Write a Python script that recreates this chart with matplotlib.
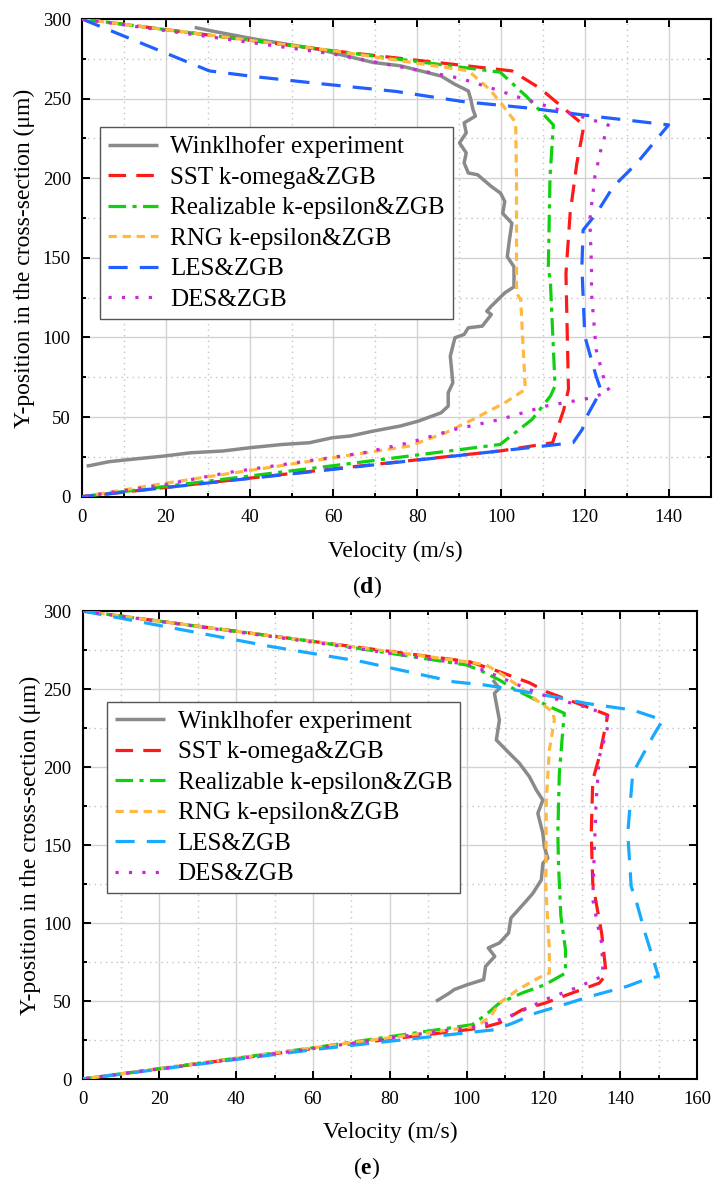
import matplotlib
matplotlib.use("Agg")
import matplotlib.pyplot as plt
from matplotlib.ticker import MultipleLocator

plt.rcParams['font.family'] = ['Liberation Serif', 'DejaVu Serif']
plt.rcParams['mathtext.fontset'] = 'custom'
plt.rcParams['mathtext.rm'] = 'Liberation Serif'
plt.rcParams['mathtext.bf'] = 'Liberation Serif:bold'

labels = ["Winklhofer experiment", "SST k-omega&ZGB", "Realizable k-epsilon&ZGB",
          "RNG k-epsilon&ZGB", "LES&ZGB", "DES&ZGB"]

# ---------------- panel (d) ----------------
exp_d_v = [26.9, 31.5, 41.2, 56.4, 69.5, 76.0, 85.7, 89.0, 92.2, 92.8, 93.3, 93.9, 91.2, 91.7, 90.1, 91.7,
           91.2, 92.2, 94.4, 97.7, 99.9, 100.9, 100.4, 102.6, 102.0, 101.5, 103.1, 103.1, 100.9, 97.7, 96.6,
           97.7, 95.5, 92.2, 91.2, 89.0, 87.9, 88.5, 87.4, 87.4, 85.7, 80.3, 76.0, 69.5, 64.0, 59.7, 54.3,
           47.8, 40.2, 33.6, 26.0, 19.5, 13.0, 6.5, 2.2, 1.1]
exp_d_y = [294.7, 292.2, 287.4, 281.0, 272.7, 270.6, 264.2, 259.0, 254.8, 249.5, 243.2, 239.0, 234.8, 228.5,
           222.2, 215.9, 209.6, 203.3, 202.2, 194.8, 190.6, 185.4, 178.0, 171.7, 161.2, 150.7, 144.4, 131.8,
           128.0, 119.7, 116.5, 114.4, 107.1, 106.1, 101.9, 99.8, 88.3, 71.5, 65.3, 56.9, 52.7, 47.5, 44.4,
           41.2, 38.1, 37.0, 33.9, 32.8, 30.8, 28.7, 27.6, 25.5, 23.8, 22.0, 19.7, 19.2]

sst_d_v = [0, 60, 102.6, 109.3, 119.8, 118.1, 116.5, 115.5, 116.1, 115.0, 112.3, 100.0, 60, 0]
sst_d_y = [300, 280, 267.4, 256.5, 233.2, 209.4, 178.0, 140.0, 67.4, 54.8, 33.9, 28.8, 17.5, 0]

rke_d_v = [0, 60, 99.8, 106.1, 112.5, 111.7, 111.3, 111.8, 112.9, 111.8, 107.4, 99.8, 60, 0]
rke_d_y = [300, 280, 266.6, 251.3, 233.5, 201.0, 144.5, 134.3, 69.5, 63.2, 48.5, 32.8, 19.5, 0]

rng_d_v = [0, 60, 92.2, 97.4, 100.5, 103.5, 103.7, 103.7, 104.7, 105.8, 100.9, 93.3, 86.8, 78.1, 60, 40, 20, 0]
rng_d_y = [300, 280, 267.5, 255.5, 245.5, 235.0, 200.0, 127.8, 123.8, 67.4, 59.0, 48.5, 40.2, 31.8, 24.5,
           16.5, 8.5, 0]

les_d_v = [0, 30.4, 41.2, 56.4, 75.0, 91.0, 106.9, 122.8, 140.0, 132.4, 126.8, 122.8, 119.6, 119.3, 120.0,
           122.7, 123.8, 122.7, 120.5, 119.4, 117.2, 100.0, 60, 0]
les_d_y = [300, 267.4, 263.8, 259.5, 254.5, 248.1, 244.0, 238.7, 233.5, 209.4, 194.7, 178.0, 167.5, 144.5,
           100.8, 75.7, 67.4, 61.1, 50.6, 42.3, 33.9, 28.8, 17.2, 0]

des_d_v = [0, 60, 90.2, 99.0, 103.7, 112.5, 120.5, 125.6, 124.0, 122.4, 121.2, 121.6, 121.6, 122.7, 124.8,
           125.9, 121.6, 110.7, 99.8, 89.0, 78.1, 67.3, 56.4, 34.7, 20.0, 0]
des_d_y = [300, 278, 262.8, 255.5, 251.3, 244.0, 237.7, 233.5, 219.8, 201.0, 173.8, 144.5, 127.5, 92.5, 71.5,
           66.3, 62.1, 56.9, 48.5, 42.3, 33.9, 27.6, 23.4, 15.1, 7.7, 0]

# ---------------- panel (e) ----------------
exp_e_v = [106.8, 108.5, 107.2, 108.5, 107.7, 111.1, 113.7, 116.3, 118.1, 119.8, 118.5, 119.8, 120.2, 121.1,
           119.8, 119.4, 117.2, 115.0, 111.5, 110.9, 108.5, 105.6, 107.3, 104.9, 104.4, 100.2, 96.7, 95.5, 92.0]
exp_e_y = [255.8, 250.4, 247.2, 230.1, 217.3, 208.8, 202.4, 193.8, 185.3, 178.8, 170.3, 157.5, 148.9, 141.5,
           138.3, 127.6, 119.0, 112.8, 103.2, 93.6, 87.2, 84.0, 78.6, 72.2, 63.7, 60.5, 57.3, 55.1, 49.8]

sst_e_v = [0, 60, 100.7, 108.5, 116.3, 120.7, 131.1, 136.7, 134.5, 132.8, 132.4, 132.8, 135.1, 136.3, 134.5,
           127.4, 120.4, 114.4, 108.5, 103.8, 60, 0]
sst_e_y = [300, 280.5, 267.5, 261.1, 254.0, 248.3, 238.7, 233.3, 206.6, 191.7, 157.5, 125.0, 93.6, 66.9, 61.5,
           55.1, 48.7, 44.4, 35.9, 32.7, 19.5, 0]

rke_e_v = [0, 60, 99.9, 103.3, 108.5, 112.0, 117.2, 120.7, 125.4, 125.0, 124.1, 123.7, 123.9, 124.5, 125.7,
           125.7, 120.4, 114.4, 108.5, 105.0, 101.4, 60, 0]
rke_e_y = [300, 280.5, 265.4, 262.2, 255.8, 250.4, 244.0, 239.7, 234.4, 223.7, 196.0, 157.5, 136.3, 104.3,
           82.9, 67.9, 60.5, 55.1, 48.7, 41.2, 34.8, 20.0, 0]

rng_e_v = [0, 60, 99.9, 105.1, 109.4, 113.7, 118.1, 122.4, 122.8, 121.5, 120.7, 120.6, 121.5, 121.5, 118.6,
           113.3, 108.5, 106.2, 102.6, 60, 0]
rng_e_y = [300, 280.5, 267.5, 265.4, 259.0, 251.5, 242.9, 235.4, 230.1, 210.9, 178.8, 122.0, 82.9, 67.9, 64.7,
           57.3, 48.7, 40.2, 33.8, 20.0, 0]

les_e_v = [0, 49.3, 73.0, 96.7, 104.6, 108.5, 122.4, 131.1, 143.2, 151.0, 148.4, 143.2, 141.9, 142.8, 144.0,
           146.4, 149.9, 146.4, 141.7, 132.2, 123.9, 118.0, 112.1, 107.3, 60, 0]
les_e_y = [300, 277.1, 267.4, 254.6, 252.6, 251.1, 245.1, 240.8, 236.5, 230.1, 219.4, 196.0, 157.5, 123.3,
           115.0, 93.6, 65.8, 63.7, 59.4, 53.0, 46.6, 42.3, 35.9, 31.6, 18.8, 0]

des_e_v = [0, 60, 101.2, 110.3, 115.5, 119.8, 124.1, 129.3, 134.5, 137.1, 136.3, 134.5, 133.7, 133.2, 132.8,
           134.5, 135.1, 135.5, 128.0, 120.4, 113.3, 108.5, 102.6, 60, 0]
des_e_y = [300, 280, 265.4, 255.8, 250.4, 246.2, 242.9, 239.7, 235.4, 231.2, 221.6, 206.6, 178.8, 146.8, 115.0,
           93.6, 87.2, 66.0, 58.0, 50.9, 42.3, 38.0, 33.8, 19.5, 0]

# ---------------- styles ----------------
W, H = 713, 1183
fig = plt.figure(figsize=(W / 100, H / 100), dpi=100)

gray = '#8a8a8a'
styles_common = [
    dict(color=gray, lw=2.5, ls='-'),
    dict(color='#ff1a1a', lw=2.3, ls=(0, (5.5, 3.2))),
    dict(color='#10d010', lw=2.3, ls=(0, (5.5, 2.0, 1.3, 2.0))),
    dict(color='#ffb840', lw=2.3, ls=(0, (2.6, 1.8))),
    None,
    dict(color='#c828d8', lw=2.3, ls=(0, (1.0, 3.2))),
]
les_color = {'d': '#2060ff', 'e': '#18aaff'}


def px_ax(l, r, t, b):
    return [l / W, 1 - b / H, (r - l) / W, (b - t) / H]


def make_panel(rect, xmax, series, les_col, leg_anchor):
    ax = fig.add_axes(rect)
    for i, (v, y) in enumerate(series):
        st = styles_common[i]
        if st is None:
            st = dict(color=les_col, lw=2.3, ls=(0, (6.0, 3.8)))
        ax.plot(v, y, color=st['color'], lw=st['lw'], linestyle=st['ls'], label=labels[i],
                solid_capstyle='butt', dash_capstyle='butt', zorder=3)
    ax.set_xlim(0, xmax)
    ax.set_ylim(0, 300)
    ax.xaxis.set_major_locator(MultipleLocator(20))
    ax.xaxis.set_minor_locator(MultipleLocator(10))
    ax.yaxis.set_major_locator(MultipleLocator(50))
    ax.yaxis.set_minor_locator(MultipleLocator(25))
    ax.grid(which='major', color='#d2d2d2', lw=1.0, ls='-', zorder=0)
    ax.grid(which='minor', color='#c4c4c4', lw=1.0, ls=(0, (1, 3)), zorder=0)
    ax.set_axisbelow(True)
    ax.tick_params(which='both', direction='in', top=True, right=True, width=1.4)
    ax.tick_params(which='major', length=5.5)
    ax.tick_params(which='minor', length=3.2)
    ax.tick_params(axis='x', which='major', pad=9, labelsize=13.5)
    ax.tick_params(axis='y', which='major', pad=8, labelsize=13.5)
    for s in ax.spines.values():
        s.set_linewidth(1.5)
    leg = ax.legend(loc='upper left', bbox_to_anchor=leg_anchor, fontsize=18, frameon=True,
                    fancybox=False, framealpha=1, edgecolor='#555555', borderpad=0.32,
                    labelspacing=0.32, handlelength=2.0, handletextpad=0.5, borderaxespad=0)
    leg.get_frame().set_linewidth(1.0)
    return ax


series_d = [(exp_d_v, exp_d_y), (sst_d_v, sst_d_y), (rke_d_v, rke_d_y),
            (rng_d_v, rng_d_y), (les_d_v, les_d_y), (des_d_v, des_d_y)]
series_e = [(exp_e_v, exp_e_y), (sst_e_v, sst_e_y), (rke_e_v, rke_e_y),
            (rng_e_v, rng_e_y), (les_e_v, les_e_y), (des_e_v, des_e_y)]

ax1 = make_panel(px_ax(82, 710.5, 19, 496.7), 150, series_d, les_color['d'], (0.0286, 0.773))
ax2 = make_panel(px_ax(82.5, 697.3, 611, 1079), 160, series_e, les_color['e'], (0.040, 0.806))

ylab = "Y-position in the cross-section (μm)"
fig.text(24 / W, 1 - 258 / H, ylab, rotation=90, ha='center', va='center', fontsize=17)
fig.text(30 / W, 1 - 845 / H, ylab, rotation=90, ha='center', va='center', fontsize=17)
fig.text(395 / W, 1 - 551 / H, "Velocity (m/s)", ha='center', va='center', fontsize=17)
fig.text(390 / W, 1 - 1132 / H, "Velocity (m/s)", ha='center', va='center', fontsize=17)
fig.text(367 / W, 1 - 587 / H, r"($\mathbf{d}$)", ha='center', va='center', fontsize=17)
fig.text(367 / W, 1 - 1168 / H, r"($\mathbf{e}$)", ha='center', va='center', fontsize=17)

fig.savefig("out.png", dpi=100)
